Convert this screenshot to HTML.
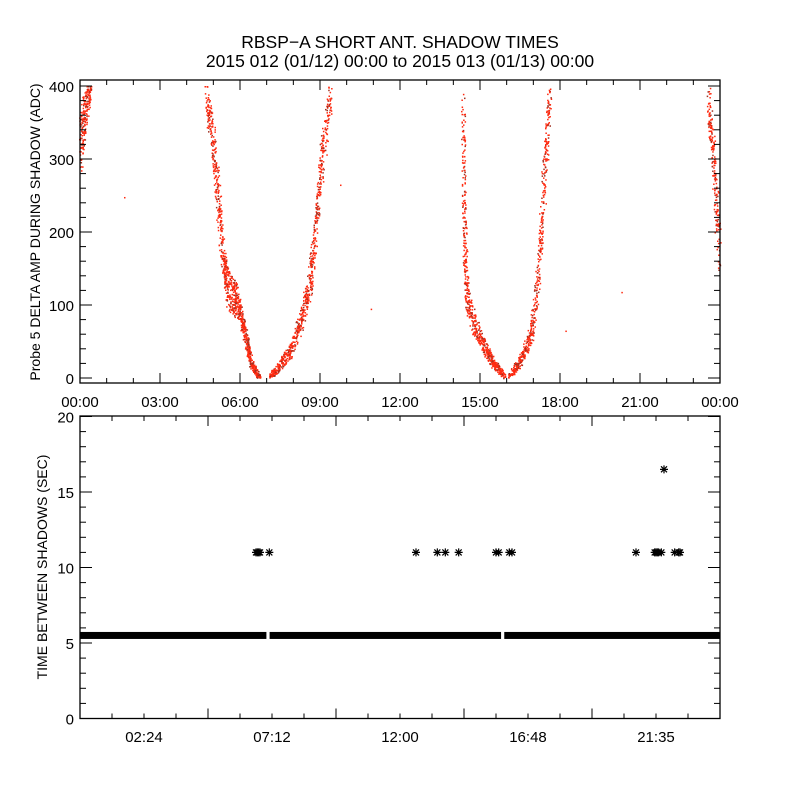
<!DOCTYPE html>
<html><head><meta charset="utf-8">
<style>
html,body{margin:0;padding:0;background:#fff;}
svg{display:block;font-family:"Liberation Sans","DejaVu Sans",sans-serif;}
</style></head>
<body>
<svg id="c" width="800" height="800" viewBox="0 0 800 800" xmlns="http://www.w3.org/2000/svg">
<rect width="800" height="800" fill="#fff"/>
<text x="400" y="48" text-anchor="middle" font-size="17.5">RBSP−A SHORT ANT. SHADOW TIMES</text>
<text x="400" y="67" text-anchor="middle" font-size="17.5">2015 012 (01/12) 00:00 to 2015 013 (01/13) 00:00</text>
<g id="topPanel"></g>
<g id="botPanel"></g>
</svg>
<script>
// ---- top panel data (hours, ADC value, spread) : band centre points
const branchA = [[0.0,320,40],[0.15,360,30],[0.35,395,15]];
const branchB = [[4.69,395,15],[5.0,320,30],[5.2,230,25],[5.4,150,20],[5.55,120,25],[5.8,110,25],[6.0,90,12],[6.2,55,8],[6.4,20,6],[6.7,2,2]];
const branchC = [[7.1,2,2],[7.5,18,8],[7.9,40,10],[8.3,80,15],[8.6,130,20],[8.8,200,25],[9.05,300,30],[9.4,390,15]];
const branchD = [[14.35,380,20],[14.4,200,40],[14.5,110,18],[14.8,70,14],[15.2,40,10],[15.5,20,6],[15.9,3,3]];
const branchE = [[16.1,3,3],[16.5,25,8],[16.9,60,14],[17.2,150,30],[17.4,280,35],[17.6,385,15]];
const branchF = [[23.55,380,20],[23.75,300,25],[23.95,170,40]];
const outlierHours = [1.65,9.75,10.9,18.2,20.3];
const outlierValues = [248,265,95,65,118];
const topYTicks = [0,100,200,300,400];
const topXLabels = ["00:00","03:00","06:00","09:00","12:00","15:00","18:00","21:00","00:00"];
// ---- bottom panel data
const baseValue = 5.5;
const gapHours = [7.05,15.85];
const longHours = [6.6,6.65,6.7,6.75,7.1,12.6,13.4,13.7,14.2,15.6,15.7,16.1,16.2,20.85,21.55,21.6,21.65,21.7,21.8,22.3,22.45,22.5];
const longValues = [11,11,11,11,11,11,11,11,11,11,11,11,11,11,11,11,11,11,11,11,11,11];
const peakHours = [21.9];
const peakValues = [16.5];
const botYTicks = [0,5,10,15,20];
const botXLabels = ["02:24","07:12","12:00","16:48","21:35"];

const NS="http://www.w3.org/2000/svg";
function mk(p,t,a){const e=document.createElementNS(NS,t);for(const k in a)e.setAttribute(k,a[k]);p.appendChild(e);return e;}
const X0=80,X1=720;
const xH=h=>X0+h/24*(X1-X0);
const yTop=v=>378-v*0.73;
const yBot=v=>718.5-v*15.1;
const topG=document.getElementById('topPanel'), botG=document.getElementById('botPanel');

let seed=12345;function rnd(){seed=(seed*16807)%2147483647;return seed/2147483647;}

const dots=mk(topG,'g',{});


function drawBranch(b,n){
  for(let i=0;i<b.length-1;i++){
    const [h0,v0,s0]=b[i],[h1,v1,s1]=b[i+1];
    for(let k=0;k<n;k++){
      const f=rnd();const h=h0+(h1-h0)*f, v=v0+(v1-v0)*f, s=s0+(s1-s0)*f;
      const vv=Math.min(400,Math.max(0,v+(rnd()-0.5)*2*s));
      const hh=h+(rnd()-0.5)*0.14;
      const r=mk(dots,'rect',{x:xH(hh).toFixed(1),y:yTop(vv).toFixed(1),width:1.5,height:1.5,fill:rnd()<0.2?'#a03020':'#ff2a10'});
      
      
    }
  }
}
[branchA,branchB,branchC,branchD,branchE,branchF].forEach(b=>drawBranch(b,100));
outlierHours.forEach((h,i)=>{const r=mk(dots,'rect',{x:xH(h),y:yTop(outlierValues[i]),width:1.5,height:1.5,fill:'#ff2a10'});

});

const tf=mk(topG,'rect',{x:80,y:80,width:640,height:303,fill:'none',stroke:'#000','stroke-width':1.3});


for(let v=0;v<=400;v+=20){const y=yTop(v),L=v%100===0?12:6;
 mk(topG,'line',{x1:80,x2:80+L,y1:y,y2:y,stroke:'#000'});mk(topG,'line',{x1:720,x2:720-L,y1:y,y2:y,stroke:'#000'});}
topYTicks.forEach(v=>{const t=mk(topG,'text',{x:74,y:yTop(v)+6,'text-anchor':'end','font-size':15});t.textContent=v;
 
 });
for(let h=0;h<=24;h+=1){const x=xH(h),L=h%3===0?10:5;
 mk(topG,'line',{x1:x,x2:x,y1:383,y2:383-L,stroke:'#000'});mk(topG,'line',{x1:x,x2:x,y1:80,y2:80+L,stroke:'#000'});}
topXLabels.forEach((s,i)=>{const t=mk(topG,'text',{x:xH(i*3),y:407,'text-anchor':'middle','font-size':15});t.textContent=s;
 
 });
const yt=mk(topG,'text',{transform:'translate(40,232) rotate(-90)','text-anchor':'middle','font-size':14});
yt.textContent='Probe 5 DELTA AMP DURING SHADOW (ADC)';



const band=mk(botG,'g',{});


const edges=[0,...gapHours,24];
for(let i=0;i<edges.length-1;i++){
 const a=edges[i]+(i?0.06:0), b=edges[i+1]-(i<edges.length-2?0.06:0);
 const r=mk(band,'rect',{x:xH(a),y:yBot(baseValue)-3.5,width:xH(b)-xH(a),height:7,fill:'#000'});
 
 
}
function star(g,h,v){const x=xH(h),y=yBot(v);
 const s=mk(g,'path',{d:`M${x-4} ${y}H${x+4}M${x} ${y-4}V${y+4}M${x-3} ${y-3}L${x+3} ${y+3}M${x-3} ${y+3}L${x+3} ${y-3}`,stroke:'#000','stroke-width':1.2});
 
 }
const stars=mk(botG,'g',{});


longHours.forEach((h,i)=>star(stars,h,longValues[i]));
peakHours.forEach((h,i)=>star(stars,h,peakValues[i]));

const bf=mk(botG,'rect',{x:80,y:416,width:640,height:302.5,fill:'none',stroke:'#000','stroke-width':1.3});


for(let v=0;v<=20;v+=1){const y=yBot(v),L=v%5===0?12:6;
 mk(botG,'line',{x1:80,x2:80+L,y1:y,y2:y,stroke:'#000'});mk(botG,'line',{x1:720,x2:720-L,y1:y,y2:y,stroke:'#000'});}
botYTicks.forEach(v=>{const t=mk(botG,'text',{x:74,y:yBot(v)+6,'text-anchor':'end','font-size':15});t.textContent=v;
 
 });
for(let k=0;k<=20;k++){const x=xH(k*1.2),L=k%4===0?10:5;
 mk(botG,'line',{x1:x,x2:x,y1:718.5,y2:718.5-L,stroke:'#000'});mk(botG,'line',{x1:x,x2:x,y1:416,y2:416+L,stroke:'#000'});}
botXLabels.forEach((s,i)=>{const t=mk(botG,'text',{x:xH(2.4+i*4.8),y:742,'text-anchor':'middle','font-size':15});t.textContent=s;
 
 });
const yt2=mk(botG,'text',{transform:'translate(47,567) rotate(-90)','text-anchor':'middle','font-size':14});
yt2.textContent='TIME BETWEEN SHADOWS (SEC)';


</script>
</body></html>
